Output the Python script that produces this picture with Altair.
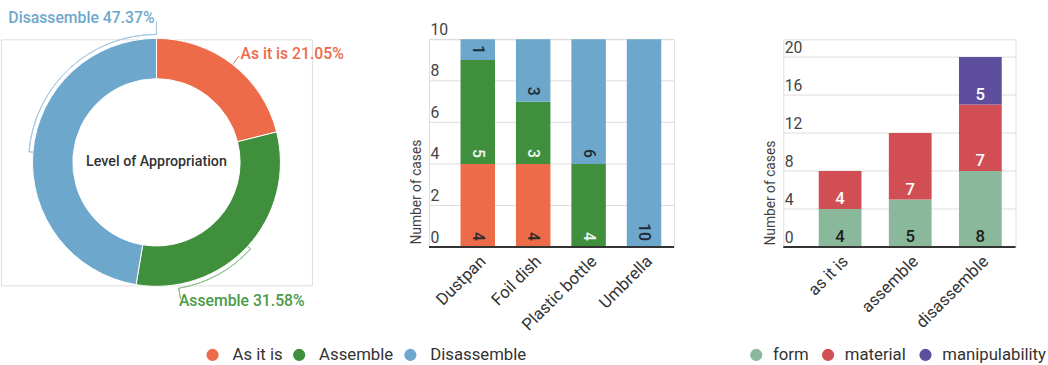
import math
import altair as alt
import pandas as pd

# ---------------- data ----------------
levels = ["As it is", "Assemble", "Disassemble"]
level_pct = [21.05, 31.58, 47.37]

objects = ["Dustpan", "Foil dish", "Plastic bottle", "Umbrella"]
obj_as_it_is = [4, 4, 0, 0]
obj_assemble = [5, 3, 4, 0]
obj_disassemble = [1, 3, 6, 10]

kinds = ["as it is", "assemble", "disassemble"]
factors = ["form", "material", "manipulability"]
kind_form = [4, 5, 8]
kind_material = [4, 7, 7]
kind_manip = [0, 0, 5]

y1_ticks = [0, 2, 4, 6, 8, 10]
y2_ticks = [0, 4, 8, 12, 16, 20]

# ---------------- styles ----------------
FONT = "Roboto"
LEVEL_COLORS = ["#EE6B4A", "#3F8F3D", "#6DA8CC"]
LEVEL_LABEL_COLORS = ["#EE6B4A", "#4A9A48", "#6DA8CC"]
LEVEL_TEXT = ["#2b2b2b", "#eef4ee", "#1f2b36"]
LEADER_COLORS = ["#F09A80", "#8CC08A", "#A3C8E0"]
FACTOR_COLORS = ["#89B99A", "#D14F54", "#5D4E9E"]
FACTOR_TEXT = ["#1c1c1c", "#ffffff", "#ffffff"]
GRID_COLOR = "#dcdcdc"
BASE_COLOR = "#333333"
TWO_PI = 2 * math.pi
ASSEMBLE_LABEL_ANGLE = math.radians(170)
TOP_MARGIN = 36  # space above the plot panels


def rad(p):
    return p / 100.0 * TWO_PI


def stacked(cats, names, vals, cat_field):
    rows = []
    for i, c in enumerate(cats):
        base = 0
        for j, s in enumerate(names):
            v = vals[j][i]
            if v > 0:
                rows.append({cat_field: c, "series": s, "value": v,
                             "start": base, "end": base + v, "order": j})
            base += v
    return pd.DataFrame(rows)


def legend(x, y, offset, pad):
    return alt.Legend(orient="none", legendX=x, legendY=y, direction="horizontal",
                      title=None, symbolType="circle", symbolSize=154,
                      symbolStrokeWidth=0, labelFontSize=17, labelFont=FONT,
                      labelColor="#333", labelOffset=offset, columnPadding=pad, padding=0)


# ---------------- donut ----------------
dd = pd.DataFrame({"level": levels, "pct": level_pct, "order": list(range(len(levels)))})
cum = 0.0
mids = []
for p in level_pct:
    mids.append(cum + p / 2)
    cum += p
dd["mid"] = mids
dd["label"] = [f"{l} {p:.2f}%" for l, p in zip(levels, level_pct)]
mid = dict(zip(levels, mids))

one = pd.DataFrame({"k": [0]})

# invisible frame so the layout origin is the panel's own corner
frame = alt.Chart(one).mark_rect(fill="transparent", stroke="transparent", strokeWidth=0).encode(
    x=alt.value(0), x2=alt.value("width"), y=alt.value(-TOP_MARGIN), y2=alt.value("height"))

theta_scale = alt.Scale(domain=[0, 100])
ring = alt.Chart(dd).mark_arc(outerRadius=126, innerRadius=85, stroke="white", strokeWidth=1).encode(
    theta=alt.Theta("pct:Q", stack=True, scale=theta_scale),
    color=alt.Color("level:N", scale=alt.Scale(domain=levels, range=LEVEL_COLORS),
                    legend=legend(206.5, 312, 11.8, 8)),
    order=alt.Order("order:Q"),
)

leader_specs = [
    (rad(mid["Disassemble"]), TWO_PI, 130, 130, LEADER_COLORS[2]),
    (rad(mid["Disassemble"]), rad(mid["Disassemble"]), 126, 130, LEADER_COLORS[2]),
    (TWO_PI, TWO_PI, 130, 143, LEADER_COLORS[2]),
    (rad(mid["Assemble"]), ASSEMBLE_LABEL_ANGLE, 130, 130, LEADER_COLORS[1]),
    (rad(mid["Assemble"]), rad(mid["Assemble"]), 126, 130, LEADER_COLORS[1]),
    (ASSEMBLE_LABEL_ANGLE, ASSEMBLE_LABEL_ANGLE, 130, 141, LEADER_COLORS[1]),
    (rad(mid["As it is"]), rad(mid["As it is"]), 127, 137, LEADER_COLORS[0]),
]
leaders = [
    alt.Chart(one).mark_arc(theta=t1, theta2=t2, innerRadius=r0, outerRadius=r1,
                            fillOpacity=0, strokeWidth=1).encode(stroke=alt.value(c))
    for (t1, t2, r0, r1, c) in leader_specs
]

label_specs = [
    ("Disassemble", TWO_PI, 147, "right", -2, LEVEL_LABEL_COLORS[2]),
    ("As it is", rad(mid["As it is"]), 139, "left", 0, LEVEL_LABEL_COLORS[0]),
    ("Assemble", ASSEMBLE_LABEL_ANGLE, 143, "left", -2, LEVEL_LABEL_COLORS[1]),
]
labels = [
    alt.Chart(dd).transform_filter(alt.datum.level == name).mark_text(
        theta=t, radius=r, align=al, dx=dx, baseline="middle", fontSize=16,
        fontWeight=500, font=FONT, color=c).encode(text="label:N")
    for (name, t, r, al, dx, c) in label_specs
]

center = alt.Chart(pd.DataFrame({"t": ["Level of Appropriation"]})).mark_text(
    fontSize=14.5, fontWeight=500, font=FONT, color="#333").encode(text="t:N")

donut = alt.layer(frame, ring, *leaders, *labels, center).properties(width=316, height=250)


# ---------------- shared axis styles ----------------
def y_axis(values, title_y):
    return alt.Axis(values=values, grid=False, domain=False,
                    ticks=False, tickSize=0, labelAlign="left", labelPadding=-1,
                    labelBaseline="alphabetic", labelOffset=-5, labelFontSize=16,
                    labelColor="#444", labelFont=FONT, title="Number of cases",
                    titleFontSize=14, titleFontWeight="normal", titleColor="#444",
                    titleFont=FONT, titleAngle=270, titleAlign="left",
                    titleBaseline="middle", titleX=-13, titleY=title_y)


def x_axis():
    return alt.Axis(labelAngle=-45, labelAlign="right", labelBaseline="top", labelPadding=6,
                    labelFontSize=17, labelColor="#333", labelFont=FONT, domain=False,
                    ticks=False, grid=False, title=None)


def bar_panel(df, cat_field, cats, names, colors, text_colors, ticks, y_max, title_y,
              x_range, pad_inner, color_legend, text_mark, width):
    x = alt.X(f"{cat_field}:N", sort=cats, title=None,
              scale=alt.Scale(range=x_range, paddingInner=pad_inner, paddingOuter=0),
              axis=x_axis())
    yscale = alt.Scale(domain=[0, y_max], nice=False)
    yaxis = y_axis(ticks, title_y)
    grid = alt.Chart(pd.DataFrame({"tick": ticks[1:]})).mark_rule(
        color=GRID_COLOR, strokeWidth=1).encode(
        y=alt.Y("tick:Q", scale=yscale, axis=yaxis),
        x=alt.value(0), x2=alt.value("width"))
    bars = alt.Chart(df).mark_bar().encode(
        x=x, y=alt.Y("start:Q", scale=yscale, axis=yaxis), y2="end:Q",
        color=alt.Color("series:N", scale=alt.Scale(domain=names, range=colors),
                        legend=color_legend),
    )
    text = alt.Chart(df).mark_text(**text_mark).encode(
        x=x, y=alt.Y("start:Q", scale=yscale, axis=yaxis), text="value:Q",
        color=alt.Color("series:N", scale=alt.Scale(domain=names, range=text_colors), legend=None),
    )
    base = alt.Chart(pd.DataFrame({"tick": ticks[:1]})).mark_rule(
        color=BASE_COLOR, strokeWidth=2).encode(
        y=alt.Y("tick:Q", scale=yscale, axis=yaxis),
        x=alt.value(0), x2=alt.value("width"))
    return (alt.layer(grid, bars, text, base).resolve_scale(color="independent")
            .properties(width=width, height=211))


# ---------------- bar chart 1 ----------------
d1 = stacked(objects, levels, [obj_as_it_is, obj_assemble, obj_disassemble], "object")
bar1 = bar_panel(d1, "object", objects, levels, LEVEL_COLORS, LEVEL_TEXT, y1_ticks, 10, 208,
                 [32, 236], 0.378, None,
                 dict(angle=90, align="right", baseline="middle", dx=-6, fontSize=16,
                      fontWeight=500, font=FONT), 249)

# ---------------- bar chart 2 ----------------
d2 = stacked(kinds, factors, [kind_form, kind_material, kind_manip], "kind")
bar2 = bar_panel(d2, "kind", kinds, factors, FACTOR_COLORS, FACTOR_TEXT, y2_ticks, 21.87, 209,
                 [36, 222], 0.39, legend(-36, 312, 8.5, 11),
                 dict(align="center", baseline="alphabetic", dy=-5, fontSize=17,
                      fontWeight=500, font=FONT), 236)

left = alt.hconcat(donut, bar1, spacing=119, bounds="flush").resolve_scale(color="independent")
chart = (
    alt.hconcat(left, bar2, spacing=72)
    .resolve_scale(color="independent")
    .properties(padding={"left": 0, "top": 0, "right": 0, "bottom": 0})
    .configure_view(stroke="transparent", strokeWidth=0, fill="white")
    .configure(font=FONT)
)

chart.save("out.html", embed_options={"renderer": "svg", "actions": False})
